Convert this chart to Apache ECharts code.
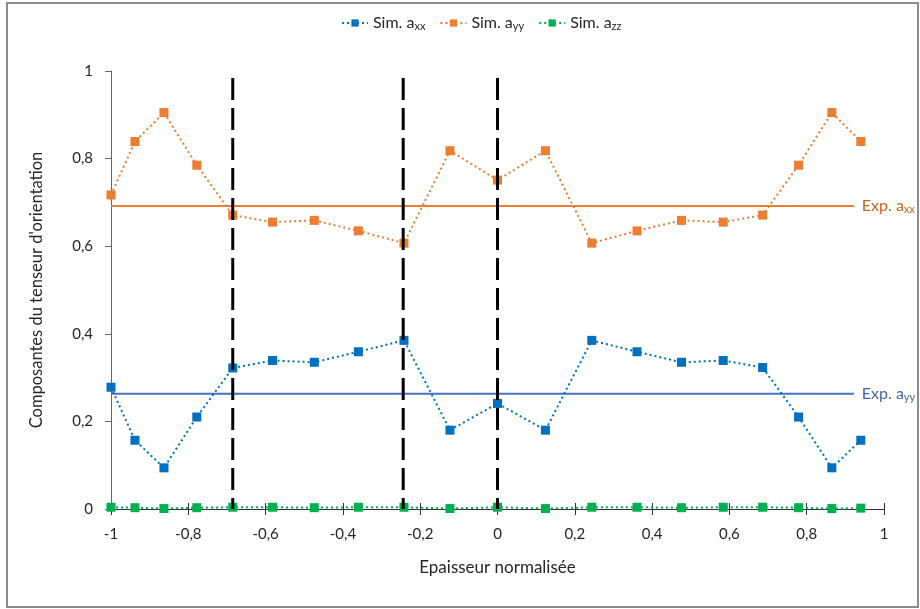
<!DOCTYPE html>
<html>
<head>
<meta charset="utf-8">
<script src="https://cdn.jsdelivr.net/npm/echarts@6/dist/echarts.min.js"></script>
<style>
html,body{margin:0;padding:0;background:#fff;}
#chart{width:920px;height:609px;}
</style>
</head>
<body>
<div id="chart"></div>
<script>
// Data
const xPos = [-1, -0.938, -0.863, -0.778, -0.685, -0.582, -0.474, -0.360, -0.242, -0.123, 0, 0.124, 0.244, 0.361, 0.476, 0.584, 0.686, 0.779, 0.865, 0.940];
const simAxx = [0.278, 0.157, 0.094, 0.210, 0.322, 0.339, 0.335, 0.359, 0.385, 0.180, 0.241, 0.180, 0.385, 0.359, 0.335, 0.339, 0.323, 0.210, 0.094, 0.157];
const simAyy = [0.717, 0.839, 0.905, 0.785, 0.671, 0.655, 0.659, 0.635, 0.607, 0.818, 0.751, 0.818, 0.607, 0.635, 0.659, 0.655, 0.671, 0.785, 0.905, 0.839];
const simAzz = [0.004, 0.003, 0.001, 0.003, 0.004, 0.004, 0.003, 0.004, 0.004, 0.001, 0.004, 0.001, 0.004, 0.004, 0.003, 0.004, 0.004, 0.003, 0.001, 0.002];
const expAxx = 0.692;
const expAyy = 0.263;
const expRange = [-1, 0.922];
const boundaries = [-0.685, -0.244, 0];
const boundaryTop = 0.984;
const xTicks = {min: -1, max: 1, interval: 0.2};
const yTicks = {min: 0, max: 1, interval: 0.2};
const xTitle = 'Epaisseur normalisée';
const yTitle = "Composantes du tenseur d'orientation";

const FONT = 'Lato';
const TXT = '#262626';
const fmt = v => {
  const r = Math.round(v * 10) / 10;
  return String(r).replace('.', ',');
};
const pair = (xs, ys) => xs.map((x, i) => [x, ys[i]]);
const subRich = (color, size) => ({
  n: {fontFamily: FONT, fontSize: size, color: color},
  s: {fontFamily: FONT, fontSize: Math.round(size * 0.68), color: color, verticalAlign: 'bottom', padding: [7, 0, 0, 0]}
});

const simStyle = (name, color, data) => ({
  name: name, type: 'line', data: data,
  symbol: 'rect', symbolSize: 9,
  itemStyle: {color: color},
  lineStyle: {color: color, width: 2, type: [2, 3]},
  z: 3
});

const series = [
  simStyle('Sim. axx', '#0070C0', pair(xPos, simAxx)),
  simStyle('Sim. ayy', '#ED7D31', pair(xPos, simAyy)),
  simStyle('Sim. azz', '#00B050', pair(xPos, simAzz)),
  {
    name: 'Exp. axx', type: 'line', data: expRange.map(x => [x, expAxx]),
    symbol: 'none', lineStyle: {color: '#ED7D31', width: 2}, z: 2,
    endLabel: {show: true, distance: 8, formatter: '{n|Exp. a}{s|xx}', rich: subRich('#C8641E', 16)}
  },
  {
    name: 'Exp. ayy', type: 'line', data: expRange.map(x => [x, expAyy]),
    symbol: 'none', lineStyle: {color: '#4472C4', width: 2}, z: 2,
    endLabel: {show: true, distance: 8, formatter: '{n|Exp. a}{s|yy}', rich: subRich('#4466A8', 16)}
  }
];
boundaries.forEach((b, i) => {
  series.push({
    name: 'b' + i, type: 'line', data: [[b, boundaryTop], [b, 0]],
    symbol: 'none', lineStyle: {color: '#000', width: 3, type: [22, 8]}, z: 5, silent: true
  });
});

const chart = echarts.init(document.getElementById('chart'), null, {renderer: 'canvas'});
chart.setOption({
  animation: false,
  backgroundColor: '#fff',
  textStyle: {fontFamily: FONT},
  graphic: [{
    type: 'rect', shape: {x: 7, y: 3, width: 911, height: 604},
    style: {fill: 'none', stroke: '#8c8c8c', lineWidth: 2}, silent: true, z: -1
  }, {
    type: 'text', x: 37, y: 290, rotation: Math.PI / 2,
    style: {text: yTitle, font: '16.5px ' + FONT, fill: TXT, align: 'center', verticalAlign: 'middle'}
  }],
  legend: {
    top: 10, left: 336,
    data: ['Sim. axx', 'Sim. ayy', 'Sim. azz'],
    itemWidth: 26, itemHeight: 9, itemGap: 14,
    formatter: name => '{n|Sim. a}{s|' + name.slice(-2) + '}',
    textStyle: {rich: subRich(TXT, 16)}
  },
  grid: {left: 111, right: 36, top: 71, bottom: 100},
  xAxis: [{
    type: 'value', min: xTicks.min, max: xTicks.max, interval: xTicks.interval,
    name: xTitle, nameLocation: 'middle', nameGap: 50,
    nameTextStyle: {fontFamily: FONT, fontSize: 17, color: TXT},
    axisLine: {onZero: false, lineStyle: {color: '#333', width: 1}},
    axisTick: {show: true, inside: true, length: 6, lineStyle: {color: '#333'}},
    axisLabel: {formatter: fmt, fontFamily: FONT, fontSize: 15, color: TXT, margin: 18},
    splitLine: {show: false}
  }, {
    type: 'value', min: xTicks.min, max: xTicks.max, interval: xTicks.interval,
    position: 'bottom',
    axisLine: {show: false},
    axisTick: {show: true, inside: false, length: 6, lineStyle: {color: '#333'}},
    axisLabel: {show: false},
    splitLine: {show: false}
  }],
  yAxis: {
    type: 'value', min: yTicks.min, max: yTicks.max, interval: yTicks.interval,
    axisLine: {show: true, onZero: false, lineStyle: {color: '#666', width: 1}},
    axisTick: {show: true, length: 6, lineStyle: {color: '#666'}},
    axisLabel: {formatter: fmt, fontFamily: FONT, fontSize: 15, color: TXT, margin: 18},
    splitLine: {show: false}
  },
  series: series
});
</script>
</body>
</html>
